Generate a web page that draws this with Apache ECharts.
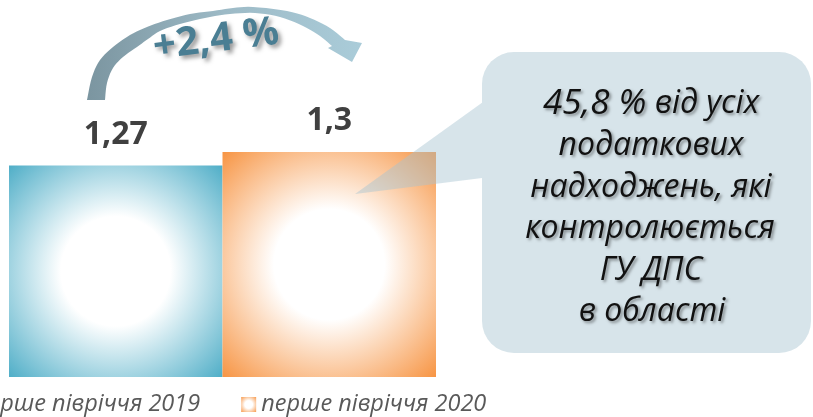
<!DOCTYPE html>
<html lang="uk">
  <head>
    <meta charset="UTF-8" />
    <title>надходження</title>
    <style>
      body, html {
        margin: 0;
        width: 100%;
        height: 100%;
        background: #fff;
      }
    </style>
  </head>
  <body>
    <div id="main" style="width:813px;height:417px;"></div>

    <script src="https://cdn.jsdelivr.net/npm/echarts@6/dist/echarts.min.js"></script>
    <script>
      const seriesNames = ['перше півріччя 2019', 'перше півріччя 2020'];
      const seriesValues = [1.27, 1.3];
      const seriesColors = ['#4BACC6', '#F79646'];
      const growthLabel = '+2,4 %';
      const calloutLines = [
        '45,8 % від усіх',
        'податкових',
        'надходжень, які',
        'контролюється',
        'ГУ ДПС',
        'в області',
      ];

      // catmull-rom, just to get a smooth outline for the arrow polygon
      function spline(pts, steps) {
        const out = [];
        for (let i = 0; i < pts.length - 1; i++) {
          const p0 = pts[Math.max(i - 1, 0)];
          const p1 = pts[i];
          const p2 = pts[i + 1];
          const p3 = pts[Math.min(i + 2, pts.length - 1)];
          for (let s = 0; s < steps; s++) {
            const t = s / steps;
            const t2 = t * t;
            const t3 = t2 * t;
            out.push([0, 1].map(k => 0.5 * (2 * p1[k] + (-p0[k] + p2[k]) * t
              + (2 * p0[k] - 5 * p1[k] + 4 * p2[k] - p3[k]) * t2
              + (-p0[k] + 3 * p1[k] - 3 * p2[k] + p3[k]) * t3)));
          }
        }
        out.push(pts[pts.length - 1]);
        return out;
      }

      function radial(color) {
        return {
          type: 'radial', x: 0.5, y: 0.5, r: 0.72,
          colorStops: [
            { offset: 0, color: '#ffffff' },
            { offset: 0.36, color: '#ffffff' },
            { offset: 1, color: color },
          ],
        };
      }

      function draw() {
        const myChart = echarts.init(document.getElementById('main'));

        const outer = [[87, 100], [92, 77], [100, 60], [113, 47], [130, 35], [147, 27], [167, 20],
          [190, 14], [213, 11], [233, 8], [253, 7], [287, 11], [310, 18], [330, 28], [345, 40]];
        const inner = [[332, 46], [320, 36], [303, 26], [280, 17], [255, 13], [230, 14], [205, 18],
          [180, 24], [160, 31], [148, 39], [137, 47], [123, 57], [113, 68], [107, 83], [105, 100]];
        const arrowPts = spline(outer, 5)
          .concat([[362, 43], [352, 62], [328, 48]])
          .concat(spline(inner, 5));

        const lineX = [651, 651, 651, 650, 651, 652];
        const lineY = [104, 146, 188, 229, 271, 312];
        const textShadow = {
          textShadowColor: 'rgba(0,0,0,0.4)',
          textShadowBlur: 3,
          textShadowOffsetX: 2,
          textShadowOffsetY: 2,
        };

        const calloutText = calloutLines.map((line, i) => ({
          type: 'text',
          x: lineX[i],
          y: lineY[i],
          z: 110,
          style: Object.assign({
            text: line.replace(/^([\d,]+ %)/, '{num|$1}'),
            fontFamily: 'Open Sans',
            fontStyle: 'italic',
            fontSize: 32,
            fill: '#111',
            align: 'center',
            verticalAlign: 'middle',
            rich: {
              num: { fontFamily: 'Open Sans', fontStyle: 'italic', fontSize: 35, color: '#111' },
            },
          }, textShadow),
        }));

        const option = {
          animation: false,
          backgroundColor: '#fff',
          grid: { left: 9, right: 377, top: 107, bottom: 40 },
          xAxis: {
            type: 'category',
            data: [''],
            show: false,
          },
          yAxis: {
            type: 'value',
            min: 0.8,
            max: 1.4,
            show: false,
          },
          legend: {
            left: -50,
            top: 388,
            icon: 'rect',
            itemWidth: 15,
            itemHeight: 15,
            itemGap: 41,
            textStyle: {
              fontFamily: 'Open Sans',
              fontStyle: 'italic',
              fontSize: 23.5,
              color: '#595959',
            },
            data: seriesNames,
          },
          series: seriesNames.map((name, i) => ({
            name,
            type: 'bar',
            data: [seriesValues[i]],
            barGap: '0%',
            barCategoryGap: '0%',
            itemStyle: { color: radial(seriesColors[i]) },
            label: {
              show: true,
              position: 'top',
              distance: 15,
              fontFamily: 'Open Sans',
              fontWeight: 'bold',
              fontSize: 32,
              color: '#404040',
              formatter: p => String(p.value).replace('.', ','),
            },
          })),
          graphic: [
            {
              type: 'polygon',
              z: 100,
              shape: { points: arrowPts },
              style: {
                fill: {
                  type: 'linear', x: 0, y: 0, x2: 1, y2: 0,
                  colorStops: [
                    { offset: 0, color: '#7B95A0' },
                    { offset: 0.5, color: '#9DBAC6' },
                    { offset: 1, color: '#AACCD9' },
                  ],
                },
              },
            },
            {
              type: 'text',
              x: 216,
              y: 40,
              rotation: 0.125,
              z: 105,
              style: {
                text: growthLabel,
                fontFamily: 'Open Sans',
                fontWeight: 'bold',
                fontSize: 40,
                fill: '#4A7E93',
                align: 'center',
                verticalAlign: 'middle',
                textShadowColor: 'rgba(0,0,0,0.4)',
                textShadowBlur: 4,
                textShadowOffsetX: 3,
                textShadowOffsetY: 3,
              },
            },
            {
              type: 'polygon',
              z: 100,
              shape: { points: [[355, 194], [490, 97], [490, 177]] },
              style: { fill: 'rgba(167,196,209,0.45)' },
            },
            {
              type: 'rect',
              z: 101,
              shape: { x: 482, y: 52, width: 329, height: 301, r: 32 },
              style: { fill: '#D7E4EA' },
            },
          ].concat(calloutText),
        };

        myChart.setOption(option);
      }

      draw();
    </script>
  </body>
</html>
